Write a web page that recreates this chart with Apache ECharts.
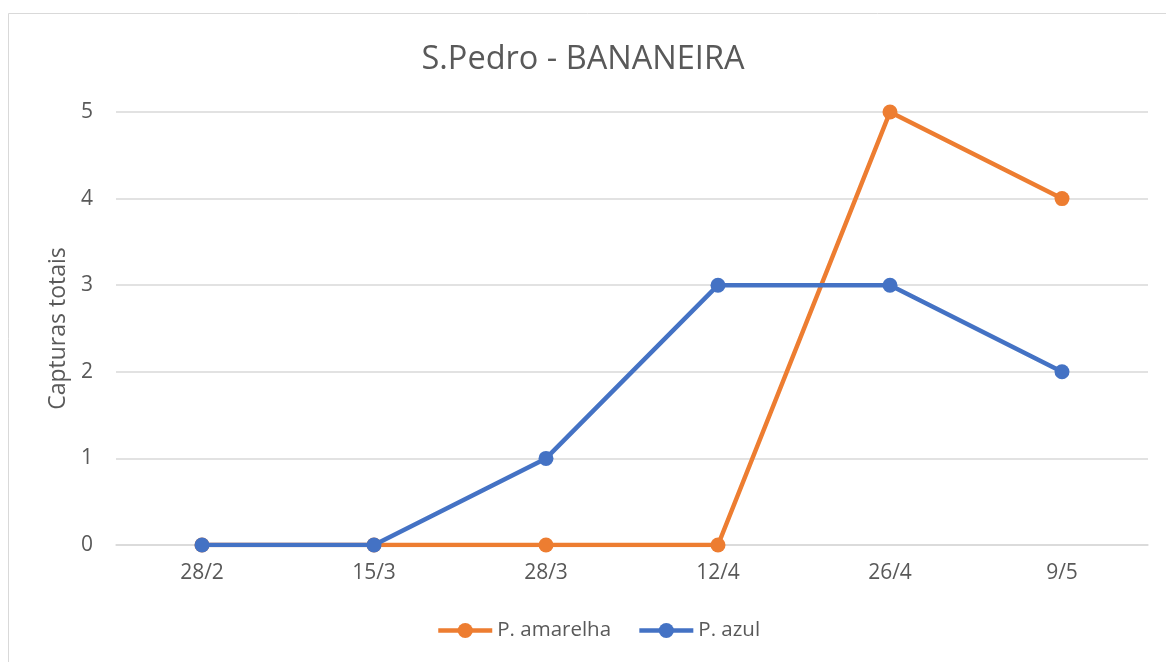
<!DOCTYPE html>
<html>
<head>
<meta charset="utf-8">
<script src="https://cdn.jsdelivr.net/npm/echarts@6/dist/echarts.min.js"></script>
<style>
html,body{margin:0;padding:0;background:#fff;}
#c{width:1166px;height:662px;}
</style>
</head>
<body>
<div id="c"></div>
<script>
const categories = ['28/2', '15/3', '28/3', '12/4', '26/4', '9/5'];
const amarelha = [0, 0, 0, 0, 5, 4];
const azul = [0, 0, 1, 3, 3, 2];
const yTicks = [0, 1, 2, 3, 4, 5];

const FONT = '"Open Sans", sans-serif';
const chart = echarts.init(document.getElementById('c'), null, {renderer: 'canvas'});
chart.setOption({
  backgroundColor: '#fff',
  animation: false,
  graphic: [{
    type: 'rect', silent: true, z: -10,
    shape: {x: 8.5, y: 13.5, width: 1200, height: 700},
    style: {fill: 'none', stroke: '#d9d9d9', lineWidth: 1}
  }],
  title: {
    text: 'S.Pedro - BANANEIRA',
    left: 'center', top: 38,
    textStyle: {fontFamily: FONT, fontSize: 32.5, fontWeight: 'normal', color: '#595959'}
  },
  legend: {
    top: 620, left: 436, padding: 0,
    itemWidth: 54, itemHeight: 19, itemGap: 26,
    textStyle: {fontFamily: FONT, fontSize: 20.5, color: '#595959', padding: [0, 0, 0, 0]},
    lineStyle: {width: 4.5},
    data: ['P. amarelha', 'P. azul']
  },
  grid: {left: 116, right: 18, top: 112, bottom: 117},
  xAxis: {
    type: 'category',
    data: categories,
    boundaryGap: true,
    axisLine: {lineStyle: {color: '#d9d9d9', width: 1.5}},
    axisTick: {show: false},
    axisLabel: {fontFamily: FONT, fontSize: 21, color: '#595959', margin: 18}
  },
  yAxis: {
    type: 'value',
    min: 0, max: 5, interval: 1,
    name: 'Capturas totais',
    nameLocation: 'middle', nameGap: 36, nameRotate: 90,
    nameTextStyle: {fontFamily: FONT, fontSize: 23, color: '#595959'},
    axisLine: {show: false},
    axisTick: {show: false},
    axisLabel: {fontFamily: FONT, fontSize: 21, color: '#595959', margin: 23,
      formatter: v => yTicks.includes(v) ? String(v) : ''},
    splitLine: {lineStyle: {color: '#d9d9d9', width: 1.5}}
  },
  series: [
    {
      name: 'P. amarelha', type: 'line', data: amarelha,
      symbol: 'circle', symbolSize: 15,
      lineStyle: {color: '#ed7d31', width: 4.5},
      itemStyle: {color: '#ed7d31'},
      z: 2
    },
    {
      name: 'P. azul', type: 'line', data: azul,
      symbol: 'circle', symbolSize: 15,
      lineStyle: {color: '#4472c4', width: 4.5},
      itemStyle: {color: '#4472c4'},
      z: 3
    }
  ]
});
</script>
</body>
</html>
